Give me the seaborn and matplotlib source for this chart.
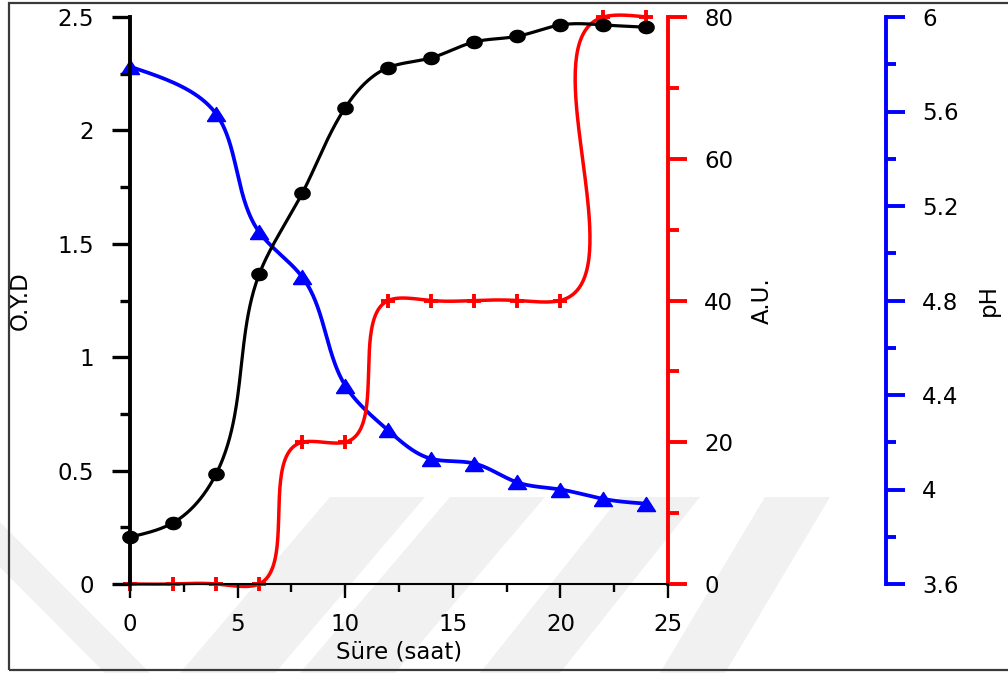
import numpy as np
import pandas as pd
import matplotlib
matplotlib.use("Agg")
import matplotlib.pyplot as plt
from matplotlib.patches import Rectangle, Polygon
from matplotlib.ticker import MultipleLocator, FixedLocator, FuncFormatter
import seaborn as sns

# ---- data -------------------------------------------------------------
time_h = [0, 2, 4, 6, 8, 10, 12, 14, 16, 18, 20, 22, 24]
oyd = [0.207, 0.27, 0.485, 1.365, 1.722, 2.10, 2.277, 2.32, 2.39, 2.415, 2.465, 2.465, 2.455]
au = [0, 0, 0, 0, 20, 20, 40, 40, 40, 40, 40, 80, 80]
ph_time = [0, 4, 6, 8, 10, 12, 14, 16, 18, 20, 22, 24]
ph = [5.79, 5.59, 5.09, 4.90, 4.44, 4.25, 4.13, 4.11, 4.03, 4.00, 3.96, 3.94]

x_ticks = [0, 5, 10, 15, 20, 25]
oyd_ticks = [0, 0.5, 1, 1.5, 2, 2.5]
au_ticks = [0, 20, 40, 60, 80]
ph_ticks = [3.6, 4.0, 4.4, 4.8, 5.2, 5.6, 6.0]

W, H, DPI = 1008, 673, 100
AX_L, AX_R, AX_T, AX_B = 130, 668, 17, 584   # plot box in pixels
AXW, AXH = AX_R - AX_L, AX_B - AX_T
FS = 16.5
SPINE_W = 2.8
CURVE_W = 2.5


def natural_spline(t, v, tt):
    """Natural cubic spline of v(t) evaluated at tt."""
    n = len(t)
    h = np.diff(t)
    A = np.zeros((n, n))
    b = np.zeros(n)
    A[0, 0] = A[-1, -1] = 1.0
    for i in range(1, n - 1):
        A[i, i - 1] = h[i - 1]
        A[i, i] = 2 * (h[i - 1] + h[i])
        A[i, i + 1] = h[i]
        b[i] = 6 * ((v[i + 1] - v[i]) / h[i] - (v[i] - v[i - 1]) / h[i - 1])
    M = np.linalg.solve(A, b)
    idx = np.clip(np.searchsorted(t, tt, side="right") - 1, 0, n - 2)
    t0, t1 = t[idx], t[idx + 1]
    hh = t1 - t0
    a, bb = t1 - tt, tt - t0
    return (M[idx] * a ** 3 / (6 * hh) + M[idx + 1] * bb ** 3 / (6 * hh)
            + (v[idx] / hh - M[idx] * hh / 6) * a
            + (v[idx + 1] / hh - M[idx + 1] * hh / 6) * bb)


def smooth_curve(x, y, y_span, per_seg=80):
    """Parametric (chord-length) spline through the points, in screen scale."""
    sx = AXW / 25.0
    sy = AXH / y_span
    X = np.asarray(x, float) * sx
    Y = np.asarray(y, float) * sy
    t = np.concatenate([[0.0], np.cumsum(np.hypot(np.diff(X), np.diff(Y)))])
    tt = np.concatenate([np.linspace(t[i], t[i + 1], per_seg, endpoint=False)
                         for i in range(len(t) - 1)] + [[t[-1]]])
    return pd.DataFrame({"x": natural_spline(t, X, tt) / sx,
                         "y": natural_spline(t, Y, tt) / sy})


# slightly wide marker shapes
_th = np.linspace(0, 2 * np.pi, 41)
WIDE_DOT = list(zip(np.cos(_th), 0.8 * np.sin(_th)))
WIDE_TRI = [(-1, -0.78), (1, -0.78), (0, 0.78), (-1, -0.78)]

sns.set_theme(style="ticks")
plt.rcParams["font.family"] = ["DejaVu Sans"]
plt.rcParams["font.size"] = FS

fig = plt.figure(figsize=(W / DPI, H / DPI), dpi=DPI)
fig.patch.set_facecolor("white")


def px_poly(pts, **kw):
    return Polygon([(px / W, 1 - py / H) for px, py in pts], closed=True,
                   transform=fig.transFigure, zorder=-5, **kw)


# faint background chevrons
wm = "#f1f1f1"
for pts in [
    [(-70, 497), (-25, 497), (150, 673), (105, 673)],
    [(330, 497), (425, 497), (275, 673), (180, 673)],
    [(450, 497), (545, 497), (395, 673), (300, 673)],
    [(620, 497), (700, 497), (560, 673), (480, 673)],
    [(765, 497), (830, 497), (725, 673), (660, 673)],
]:
    fig.patches.append(px_poly(pts, facecolor=wm, edgecolor="none"))

# outer frame
fig.patches.append(Rectangle((9 / W, 1 - 670 / H), (1030 - 9) / W, (670 - 3) / H,
                             transform=fig.transFigure, fill=False,
                             edgecolor="#3a3a3a", linewidth=1.6, zorder=10))

ax = fig.add_axes([AX_L / W, 1 - AX_B / H, AXW / W, AXH / H])
ax_au = ax.twinx()
ax_ph = ax.twinx()
ax.set_zorder(3)
ax_au.set_zorder(2)
ax_ph.set_zorder(1)
for a in (ax, ax_au, ax_ph):
    a.patch.set_visible(False)
    for s in a.spines.values():
        s.set_visible(False)

fmt = FuncFormatter(lambda v, p: f"{v:g}")

# ---- O.Y.D (left, black) ---------------------------------------------
c_oyd = smooth_curve(time_h, oyd, 2.5)
sns.lineplot(data=c_oyd, x="x", y="y", sort=False, estimator=None, ax=ax,
             color="black", linewidth=CURVE_W - 0.2, clip_on=False)
ax.plot(time_h, oyd, ls="none", marker=WIDE_DOT, ms=11, color="black",
        clip_on=False)
ax.set_xlim(0, 25)
ax.set_ylim(0, 2.5)
ax.spines["left"].set_visible(True)
ax.spines["left"].set_linewidth(SPINE_W)
ax.spines["left"].set_color("black")
ax.spines["bottom"].set_visible(True)
ax.spines["bottom"].set_linewidth(1.5)
ax.spines["bottom"].set_color("black")
ax.xaxis.set_major_locator(FixedLocator(x_ticks))
ax.xaxis.set_minor_locator(MultipleLocator(2.5))
ax.yaxis.set_major_locator(FixedLocator(oyd_ticks))
ax.yaxis.set_minor_locator(MultipleLocator(0.25))
ax.xaxis.set_major_formatter(fmt)
ax.yaxis.set_major_formatter(fmt)
ax.tick_params(axis="y", which="major", direction="out", length=13, width=2.4,
               color="black", pad=13, labelsize=FS, labelcolor="black",
               left=True, right=False)
ax.tick_params(axis="y", which="minor", direction="out", length=7, width=2.4,
               color="black", left=True, right=False)
ax.tick_params(axis="x", which="major", direction="out", length=10, width=1.7,
               color="black", pad=11, labelsize=FS, labelcolor="black",
               bottom=True, top=False)
ax.tick_params(axis="x", which="minor", direction="out", length=6, width=1.7,
               color="black", bottom=True, top=False)
ax.set_xlabel("Süre (saat)", fontsize=FS, color="black")
ax.xaxis.set_label_coords(0.5, (AX_B - 652) / AXH)
ax.xaxis.label.set_verticalalignment("center")
ax.set_ylabel("O.Y.D", fontsize=FS, color="black")
ax.yaxis.set_label_coords((20 - AX_L) / AXW, 0.5)
ax.yaxis.label.set_verticalalignment("center")

# ---- A.U. (first right axis, red) --------------------------------------
c_au = smooth_curve(time_h, au, 80)
sns.lineplot(data=c_au, x="x", y="y", sort=False, estimator=None, ax=ax_au,
             color="#ff0000", linewidth=CURVE_W, clip_on=False)
ax_au.plot(time_h, au, ls="none", marker="+", ms=10.5, mew=2.8, color="#ff0000",
           clip_on=False)
ax_au.set_ylim(0, 80)
ax_au.spines["right"].set_visible(True)
ax_au.spines["right"].set_linewidth(SPINE_W)
ax_au.spines["right"].set_color("#ff0000")
ax_au.yaxis.set_major_locator(FixedLocator(au_ticks))
ax_au.yaxis.set_minor_locator(MultipleLocator(10))
ax_au.yaxis.set_major_formatter(fmt)
ax_au.tick_params(axis="y", which="major", direction="out", length=14, width=SPINE_W,
                  color="#ff0000", pad=12, labelsize=FS, labelcolor="black",
                  right=True, left=False)
ax_au.tick_params(axis="y", which="minor", direction="out", length=8, width=SPINE_W,
                  color="#ff0000", right=True, left=False)
ax_au.set_ylabel("A.U.", fontsize=FS, color="black")
ax_au.yaxis.set_label_coords((762 - AX_L) / AXW, 0.5)
ax_au.yaxis.label.set_verticalalignment("center")

# ---- pH (second right axis, blue) --------------------------------------
c_ph = smooth_curve(ph_time, [v - 3.6 for v in ph], 2.4)
c_ph["y"] = c_ph["y"] + 3.6
sns.lineplot(data=c_ph, x="x", y="y", sort=False, estimator=None, ax=ax_ph,
             color="#0000ff", linewidth=CURVE_W + 0.2, clip_on=False)
ax_ph.plot(ph_time, ph, ls="none", marker=WIDE_TRI, ms=13, color="#0000ff",
           clip_on=False)
ax_ph.set_ylim(3.6, 6.0)
ax_ph.spines["right"].set_visible(True)
ax_ph.spines["right"].set_position(("axes", (886 - AX_L) / AXW))
ax_ph.spines["right"].set_linewidth(SPINE_W)
ax_ph.spines["right"].set_color("#0000ff")
ax_ph.yaxis.set_major_locator(FixedLocator(ph_ticks))
ax_ph.yaxis.set_minor_locator(MultipleLocator(0.2))
ax_ph.yaxis.set_major_formatter(fmt)
ax_ph.tick_params(axis="y", which="major", direction="out", length=14, width=SPINE_W,
                  color="#0000ff", pad=12, labelsize=FS, labelcolor="black",
                  right=True, left=False)
ax_ph.tick_params(axis="y", which="minor", direction="out", length=7.5, width=SPINE_W,
                  color="#0000ff", right=True, left=False)
ax_ph.set_ylabel("pH", fontsize=FS, color="black")
ax_ph.yaxis.set_label_coords((988 - AX_L) / AXW, 0.5)
ax_ph.yaxis.label.set_verticalalignment("center")

for a in (ax_au, ax_ph):
    a.set_xlabel("")

fig.savefig("out.png", dpi=DPI, facecolor="white")
